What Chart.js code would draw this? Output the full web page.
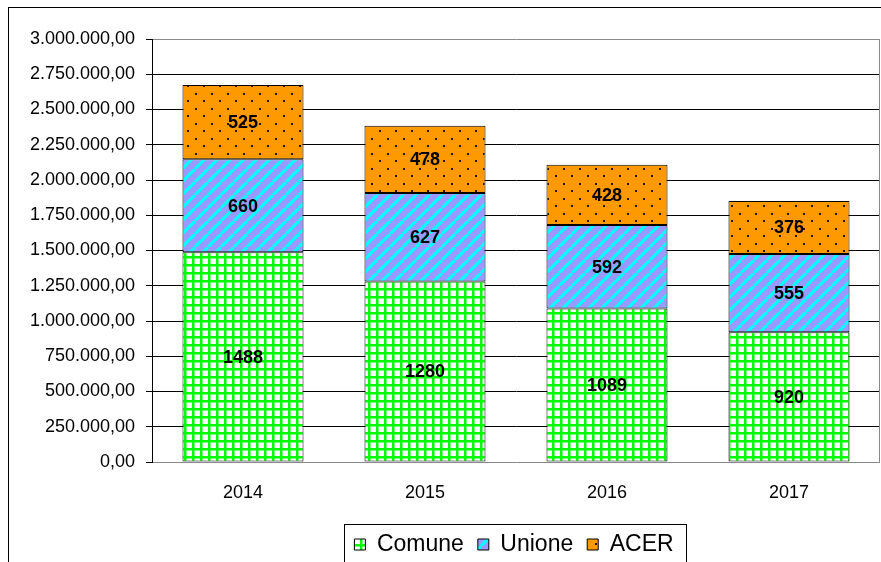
<!DOCTYPE html>
<html>
<head>
<meta charset="utf-8">
<script src="https://cdn.jsdelivr.net/npm/chart.js@4/dist/chart.umd.min.js"></script>
<style>
  html, body { margin: 0; padding: 0; background: #fff; }
  #wrap { width: 881px; height: 562px; }
</style>
</head>
<body>
<div id="wrap"><canvas id="chart" width="881" height="562"></canvas></div>
<script>
// values in thousands, as printed on the bars
const anni = ['2014', '2015', '2016', '2017'];
const comune = [1488, 1280, 1089, 920];
const unione = [660, 627, 592, 555];
const acer = [525, 478, 428, 376];
const yTicks = [0, 250000, 500000, 750000, 1000000, 1250000, 1500000, 1750000, 2000000, 2250000, 2500000, 2750000, 3000000];

const FONT = 'Arial, "Liberation Sans", sans-serif';

function formatIt(v) {
    const parts = Math.round(v).toString().replace(/\B(?=(\d{3})+(?!\d))/g, '.');
    return parts + ',00';
}

// fill patterns
function makePattern(w, h, draw) {
    const c = document.createElement('canvas');
    c.width = w; c.height = h;
    const g = c.getContext('2d');
    draw(g, w, h);
    return c.getContext('2d').createPattern(c, 'repeat');
}

const gridPattern = makePattern(8, 8, (g, w, h) => {
    g.fillStyle = '#ffffff';
    g.fillRect(0, 0, w, h);
    g.fillStyle = '#00ff00';
    g.fillRect(0, 0, w, 2.5);
    g.fillRect(0, 0, 2.5, h);
});

const stripePattern = makePattern(13, 13, (g, s) => {
    g.fillStyle = '#9999ff';
    g.fillRect(0, 0, s, s);
    g.strokeStyle = '#00ffff';
    g.lineWidth = 3.2;
    for (const o of [-s, 0, s]) {
        g.beginPath();
        g.moveTo(o, s);
        g.lineTo(o + s, 0);
        g.stroke();
    }
});

const dotPattern = makePattern(16, 15, (g, w, h) => {
    g.fillStyle = '#ff9900';
    g.fillRect(0, 0, w, h);
    g.fillStyle = '#2a1500';
    g.fillRect(3, 3, 2, 2);
    g.fillRect(11, 10, 2, 2);
});

const outerFrame = {
    id: 'outerFrame',
    afterUpdate(chart) {
        // move the legend a bit right and down, like the original
        const lg = chart.legend;
        if (!lg) return;
        lg.left += 74;
        lg.right += 74;
        lg.top += 4;
        lg.bottom += 4;
        lg.legendHitBoxes.forEach(b => { b.top = 0; });
        lg.adjustHitBoxes();
    },
    beforeDraw(chart) {
        const ctx = chart.ctx;
        ctx.save();
        ctx.fillStyle = '#fff';
        ctx.fillRect(0, 0, chart.width, chart.height);
        ctx.strokeStyle = '#000';
        ctx.lineWidth = 1;
        ctx.strokeRect(8.5, 7.5, chart.width + 20, chart.height + 20);
        ctx.restore();
    },
    beforeDatasetsDraw(chart) {
        const a = chart.chartArea;
        const ctx = chart.ctx;
        ctx.save();
        ctx.strokeStyle = '#888';
        ctx.lineWidth = 1;
        ctx.beginPath();
        ctx.moveTo(Math.round(a.right) - 0.5, Math.round(a.top) + 0.5);
        ctx.lineTo(Math.round(a.right) - 0.5, Math.round(a.bottom) + 0.5);
        ctx.stroke();
        ctx.restore();
    },
    afterDraw(chart) {
        const lg = chart.legend;
        const boxes = lg && lg.legendHitBoxes;
        if (!boxes || !boxes.length) return;
        const first = boxes[0];
        const last = boxes[boxes.length - 1];
        const ctx = chart.ctx;
        ctx.save();
        ctx.strokeStyle = '#000';
        ctx.lineWidth = 1;
        const left = Math.round(first.left - 10) + 0.5;
        const right = Math.round(last.left + last.width + 12) + 0.5;
        const top = Math.round(lg.top + 5) + 0.5;
        ctx.strokeRect(left, top, right - left, chart.height);
        ctx.restore();
    }
};

const barLabels = {
    id: 'barLabels',
    afterDatasetsDraw(chart) {
        const ctx = chart.ctx;
        ctx.save();
        ctx.font = 'bold 18px ' + FONT;
        ctx.fillStyle = '#000';
        ctx.textAlign = 'center';
        ctx.textBaseline = 'middle';
        chart.data.datasets.forEach((ds, i) => {
            chart.getDatasetMeta(i).data.forEach((bar, j) => {
                ctx.fillText(String(ds.raw[j]), bar.x, (bar.y + bar.base) / 2 + 1);
            });
        });
        ctx.restore();
    }
};

const serie = [
    { label: 'Comune', raw: comune, bg: gridPattern },
    { label: 'Unione', raw: unione, bg: stripePattern },
    { label: 'ACER', raw: acer, bg: dotPattern }
];

new Chart(document.getElementById('chart'), {
    type: 'bar',
    data: {
        labels: anni,
        datasets: serie.map(s => ({
            label: s.label,
            raw: s.raw,
            data: s.raw.map(v => v * 1000),
            backgroundColor: s.bg,
            borderColor: '#000',
            borderWidth: 1,
            borderSkipped: false,
            barPercentage: 0.665,
            categoryPercentage: 1
        }))
    },
    options: {
        responsive: false,
        animation: false,
        layout: { padding: { top: 39, right: 1, left: 0, bottom: 0 } },
        plugins: {
            legend: {
                position: 'bottom',
                labels: {
                    font: { family: FONT, size: 23 },
                    color: '#000',
                    boxWidth: 11,
                    boxHeight: 11,
                    padding: 14
                }
            },
            tooltip: { enabled: false }
        },
        scales: {
            x: {
                stacked: true,
                afterFit(scale) { scale.height = 53; },
                grid: { display: false, drawTicks: false },
                border: { display: false },
                ticks: { font: { family: FONT, size: 18 }, color: '#000', padding: 20 }
            },
            y: {
                stacked: true,
                min: 0,
                max: 3000000,
                afterFit(scale) { scale.width = 152; },
                afterBuildTicks(scale) { scale.ticks = yTicks.map(v => ({ value: v })); },
                border: { display: true, color: '#000', width: 1 },
                grid: {
                    color: ctx => (ctx.tick && (ctx.tick.value === 0 || ctx.tick.value === 3000000)) ? '#888' : '#000',
                    lineWidth: 1,
                    tickLength: 6,
                    tickColor: '#000'
                },
                ticks: {
                    font: { family: FONT, size: 18 },
                    color: '#000',
                    padding: 11,
                    callback: v => formatIt(v)
                }
            }
        }
    },
    plugins: [outerFrame, barLabels]
});
</script>
</body>
</html>
